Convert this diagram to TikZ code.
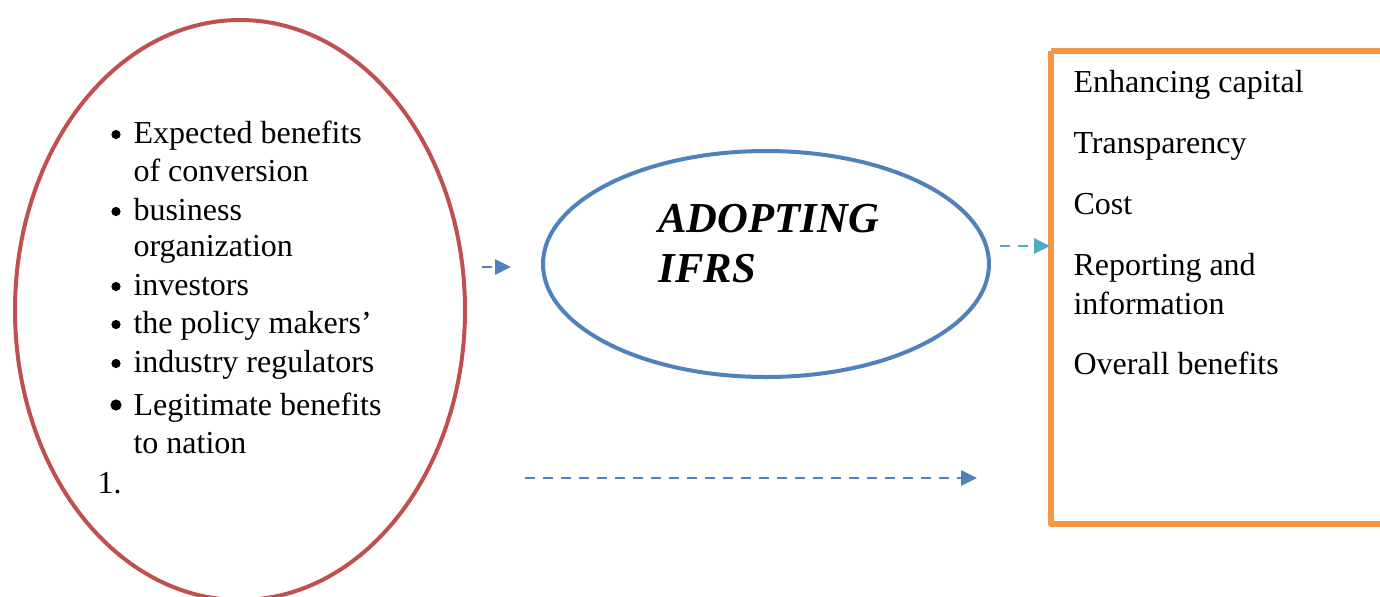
\documentclass[tikz,border=0pt]{standalone}
\usepackage{fontspec}
\setmainfont{Liberation Serif}
\usetikzlibrary{arrows.meta,shapes.geometric}
\definecolor{ringred}{HTML}{C0504D}
\definecolor{ringblue}{HTML}{4F81BD}
\definecolor{boxorange}{HTML}{F79646}
\definecolor{arrteal}{HTML}{4BACC6}
\begin{document}
\begin{tikzpicture}[x=0.375pt,y=-0.375pt,font=\fontsize{12}{14}\selectfont,line join=round,
	ring/.style={ellipse,draw,line width=1.5pt,inner sep=0pt},
	item/.style={anchor=base west,inner sep=0pt},
	dashlink/.style={line width=1.1pt,dash pattern=on 3.75pt off 3pt,-{Triangle[length=6pt,width=5.6pt]}}]
	\useasboundingbox (0,0) rectangle (1380,596);
	\clip (0,0) rectangle (1380,596);
	
	\node[ring,ringred,minimum width=168.75pt,minimum height=217.5pt] (stake) at (240,310) {};
	\node[ring,ringblue,minimum width=167.25pt,minimum height=84.75pt] (adopt) at (766,264) {};
	\draw[boxorange,line width=1.9pt] (1051,51) -- (1051,524) -- (1400,524);
	\draw[boxorange,line width=1.9pt] (1051,51) -- (1400,51);
	
	\foreach \y/\t/\n in {143/Expected benefits/b1, 220/business/b2, 295/investors/b3, 333/the policy makers’/b4, 372/industry regulators/b5}
	{\node[item] (\n) at (133,\y) {\t};
	 \fill (116,\y-8.5) circle (4.6);}
	\node[item] (b6) at (133,415) {Legitimate benefits};
	\fill (116,405) circle (5.6);
	\node[item] (b1a) at (133,181) {of conversion};
	\node[item] (b2a) at (133,256) {organization};
	\node[item] (b6a) at (133,453) {to nation};
	\node[item] (num) at (97,493) {1.};
	
	\node[item,font=\fontsize{16}{18}\selectfont\bfseries\itshape] (ad1) at (658,232) {ADOPTING};
	\node[item,font=\fontsize{16}{18}\selectfont\bfseries\itshape] (ad2) at (658,282) {IFRS};
	
	\foreach \y/\t/\n in {92/Enhancing capital/r1, 153/Transparency/r2, 214/Cost/r3, 275/Reporting and/r4, 314/information/r5, 374/Overall benefits/r6}
	\node[item] (\n) at (1073,\y) {\t};
	
	\coordinate (inA) at (482,267);
	\coordinate (inB) at (511,267);
	\coordinate (outA) at (1000,246);
	\coordinate (outB) at (1050,246);
	\coordinate (lowA) at (525,478);
	\coordinate (lowB) at (977,478);
	\draw[dashlink,ringblue] (inA) -- (inB);
	\draw[dashlink,arrteal] (outA) -- (outB);
	\draw[dashlink,ringblue] (lowA) -- (lowB);
\end{tikzpicture}
\end{document}
